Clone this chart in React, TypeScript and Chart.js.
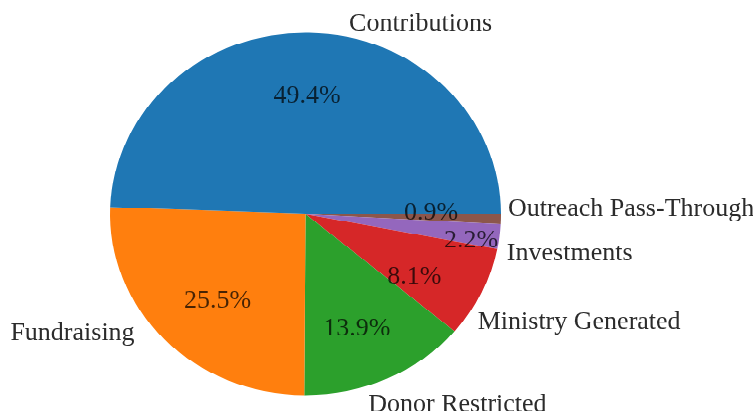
import React, { useEffect, useRef } from "react";
import { Chart, registerables } from "chart.js";

Chart.register(...registerables);

// ---- data (original matplotlib order, counter-clockwise from 3 o'clock) ----
const categories = [
  "Contributions",
  "Fundraising",
  "Donor Restricted",
  "Ministry Generated",
  "Investments",
  "Outreach Pass-Through",
];
const shares = [49.4, 25.5, 13.9, 8.1, 2.2, 0.9];
const pctLabels = ["49.4%", "25.5%", "13.9%", "8.1%", "2.2%", "0.9%"];
const colors = ["#1f77b4", "#ff7f0e", "#2ca02c", "#d62728", "#9467bd", "#8c564b"];

// ---- label layout (angle shift in degrees ccw from slice middle, distance in radii) ----
const labelShift = [-10.9, -6.7, -7.7, -8.3, -4.8, 3.1];
const labelDist = [1.073, 1.095, 1.1, 1.063, 1.053, 1.036];
const pctShift = [0.4, 3.1, -2.2, -6, -2.8, 2];
const pctDist = [0.652, 0.658, 0.687, 0.655, 0.86, 0.642];

const W = 753;
const H = 450; // drawn height, squashed to 417 on screen
const SCALE_Y = 417 / H;
const TEXT_STRETCH = 1.08;
const FONT = '26px "Liberation Serif", "Times New Roman", Tinos, Times, serif';

const n = categories.length;
// Chart.js draws clockwise, so reverse to reproduce counter-clockwise order
const chartLabels = categories.slice().reverse();
const chartValues = shares.slice().reverse();
const chartColors = colors.slice().reverse();

function drawText(ctx: CanvasRenderingContext2D, text: string, x: number, y: number) {
  ctx.save();
  ctx.translate(x, y);
  ctx.scale(1, TEXT_STRETCH);
  ctx.fillText(text, 0, 0);
  ctx.restore();
}

const labelPlugin = {
  id: "pieLabels",
  afterDatasetsDraw(chart: any) {
    const ctx = chart.ctx as CanvasRenderingContext2D;
    const meta = chart.getDatasetMeta(0);
    ctx.save();
    ctx.font = FONT;
    ctx.textBaseline = "middle";
    meta.data.forEach((arc: any, j: number) => {
      const i = n - 1 - j;
      const { x, y, startAngle, endAngle, outerRadius } = arc.getProps(
        ["x", "y", "startAngle", "endAngle", "outerRadius"],
        true
      );
      const mid = (startAngle + endAngle) / 2;
      // percentage
      const pa = mid - (pctShift[i] * Math.PI) / 180;
      ctx.fillStyle = "rgba(0,0,0,0.72)";
      ctx.textAlign = "center";
      drawText(
        ctx,
        pctLabels[i],
        x + Math.cos(pa) * outerRadius * pctDist[i],
        y + Math.sin(pa) * outerRadius * pctDist[i]
      );
      // category label
      const la = mid - (labelShift[i] * Math.PI) / 180;
      const lx = x + Math.cos(la) * outerRadius * labelDist[i];
      const ly = y + Math.sin(la) * outerRadius * labelDist[i];
      ctx.textAlign = Math.cos(la) >= 0 ? "left" : "right";
      ctx.fillStyle = "#2b2b2b";
      drawText(ctx, categories[i], lx, ly);
    });
    ctx.restore();
  },
};

export default function App() {
  const ref = useRef<HTMLCanvasElement | null>(null);

  useEffect(() => {
    document.body.style.margin = "0";
    document.body.style.overflow = "hidden";
    const canvas = ref.current;
    if (!canvas) return;
    const chart = new Chart(canvas, {
      type: "pie",
      data: {
        labels: chartLabels,
        datasets: [
          {
            data: chartValues,
            backgroundColor: chartColors,
            borderWidth: 0,
            hoverBorderWidth: 0,
            hoverOffset: 0,
            offset: 0,
          },
        ],
      },
      options: {
        responsive: false,
        devicePixelRatio: 1,
        animation: false,
        rotation: 90,
        layout: { padding: { left: 110, right: 252, top: 35.4, bottom: 23.6 } },
        plugins: {
          legend: { display: false },
          tooltip: { enabled: false },
        },
        events: [],
      },
      plugins: [labelPlugin],
    });
    return () => chart.destroy();
  }, []);

  return (
    <div
      style={{
        position: "absolute",
        left: 0,
        top: 0,
        width: W,
        height: H,
        transform: `scaleY(${SCALE_Y})`,
        transformOrigin: "0 0",
        background: "#fff",
      }}
    >
      <canvas
        ref={ref}
        width={W}
        height={H}
        style={{ width: W + "px", height: H + "px", display: "block" }}
      />
    </div>
  );
}
